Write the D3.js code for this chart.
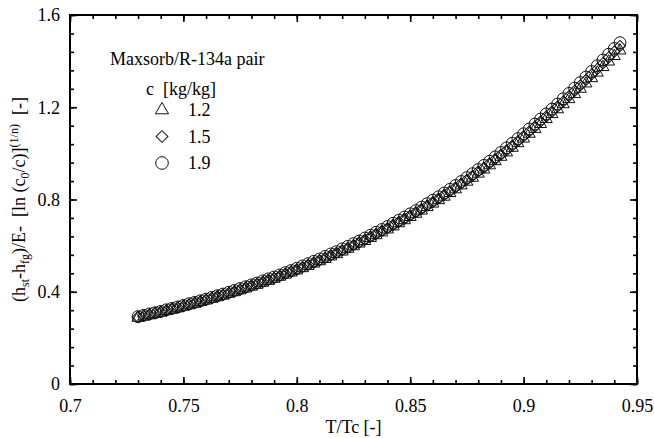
<!DOCTYPE html>
<meta charset="utf-8">
<body style="margin:0">
<script src="https://cdn.jsdelivr.net/npm/d3@7"></script>
<script>

// reduced temperature T/Tc, shared by the three series
var tr = [
  0.7300,0.7325,0.7350,0.7375,0.7400,0.7425,0.7450,0.7475,0.7500,0.7525,
  0.7550,0.7575,0.7600,0.7625,0.7650,0.7675,0.7700,0.7725,0.7750,0.7775,
  0.7800,0.7825,0.7850,0.7875,0.7900,0.7925,0.7950,0.7975,0.8000,0.8025,
  0.8050,0.8075,0.8100,0.8125,0.8150,0.8175,0.8200,0.8225,0.8250,0.8275,
  0.8300,0.8325,0.8350,0.8375,0.8400,0.8425,0.8450,0.8475,0.8500,0.8525,
  0.8550,0.8575,0.8600,0.8625,0.8650,0.8675,0.8700,0.8725,0.8750,0.8775,
  0.8800,0.8825,0.8850,0.8875,0.8900,0.8925,0.8950,0.8975,0.9000,0.9025,
  0.9050,0.9075,0.9100,0.9125,0.9150,0.9175,0.9200,0.9225,0.9250,0.9275,
  0.9300,0.9325,0.9350,0.9375,0.9400,0.9425
];

// c = 1.2 kg/kg (triangles)
var c12 = [
  0.287,0.292,0.298,0.304,0.309,0.316,0.322,0.328,0.335,0.341,
  0.348,0.355,0.362,0.369,0.376,0.383,0.391,0.398,0.406,0.414,
  0.422,0.430,0.439,0.447,0.456,0.465,0.474,0.483,0.492,0.502,
  0.512,0.522,0.532,0.542,0.553,0.563,0.574,0.586,0.597,0.609,
  0.620,0.633,0.645,0.657,0.670,0.683,0.697,0.710,0.724,0.738,
  0.752,0.767,0.782,0.797,0.812,0.828,0.844,0.861,0.877,0.894,
  0.912,0.930,0.948,0.966,0.985,1.004,1.024,1.044,1.064,1.085,
  1.106,1.127,1.149,1.170,1.191,1.213,1.235,1.257,1.280,1.303,
  1.326,1.350,1.374,1.398,1.422,1.446
];

// c = 1.5 kg/kg (diamonds)
var c15 = [
  0.290,0.296,0.301,0.307,0.313,0.319,0.326,0.332,0.338,0.345,
  0.352,0.358,0.365,0.373,0.380,0.387,0.395,0.402,0.410,0.418,
  0.426,0.435,0.443,0.452,0.460,0.469,0.478,0.488,0.497,0.507,
  0.517,0.527,0.537,0.547,0.558,0.569,0.580,0.591,0.603,0.614,
  0.626,0.639,0.651,0.664,0.676,0.690,0.703,0.717,0.731,0.745,
  0.759,0.774,0.789,0.804,0.820,0.836,0.852,0.869,0.886,0.903,
  0.921,0.938,0.957,0.975,0.994,1.013,1.033,1.053,1.074,1.095,
  1.116,1.138,1.160,1.181,1.203,1.225,1.248,1.271,1.294,1.318,
  1.342,1.366,1.391,1.416,1.441,1.466
];

// c = 1.9 kg/kg (circles)
var c19 = [
  0.292,0.298,0.304,0.309,0.315,0.322,0.328,0.334,0.341,0.348,
  0.354,0.361,0.368,0.376,0.383,0.390,0.398,0.406,0.414,0.422,
  0.430,0.438,0.447,0.456,0.464,0.473,0.483,0.492,0.502,0.512,
  0.522,0.532,0.542,0.553,0.564,0.574,0.586,0.597,0.609,0.620,
  0.633,0.645,0.658,0.670,0.683,0.697,0.710,0.724,0.738,0.752,
  0.767,0.782,0.797,0.812,0.828,0.844,0.861,0.878,0.895,0.912,
  0.930,0.948,0.966,0.985,1.004,1.024,1.044,1.064,1.085,1.106,
  1.127,1.149,1.171,1.192,1.214,1.237,1.260,1.283,1.307,1.331,
  1.355,1.380,1.405,1.430,1.455,1.480
];

var seriesNames = ["1.2", "1.5", "1.9"];
var seriesValues = [c12, c15, c19];

var xMajor = [0.7, 0.75, 0.8, 0.85, 0.9, 0.95];
var yMajor = [0, 0.4, 0.8, 1.2, 1.6];
var xMinor = d3.range(0, 26).map(function(i) { return 0.7 + i * 0.01; });
var yMinor = d3.range(0, 21).map(function(i) { return i * 0.08; });

var FONT = "'Liberation Serif', Tinos, 'Times New Roman', Times, FreeSerif";

var margin = {top: 15, right: 17, bottom: 54, left: 70},
    width = 654 - margin.left - margin.right,
    height = 438 - margin.top - margin.bottom;

var svg = d3.select("body").append("svg")
    .attr("width", 654)
    .attr("height", 438)
    .style("font-family", FONT);

var g = svg.append("g")
    .attr("transform", "translate(" + margin.left + "," + margin.top + ")");

var x = d3.scaleLinear().domain([0.7, 0.95]).range([0, width]);
var y = d3.scaleLinear().domain([0, 1.6]).range([height, 0]);

var fmt = function(d) { return String(+d.toFixed(2)); };

// minor ticks on all four sides (inward)
function minorAxis(axis, vals) {
    return axis.tickValues(vals).tickSize(-4).tickFormat("");
}
g.append("g").attr("class", "axis").attr("transform", "translate(0," + height + ")")
    .call(minorAxis(d3.axisBottom(x), xMinor));
g.append("g").attr("class", "axis")
    .call(minorAxis(d3.axisTop(x), xMinor));
g.append("g").attr("class", "axis")
    .call(minorAxis(d3.axisLeft(y), yMinor));
g.append("g").attr("class", "axis").attr("transform", "translate(" + width + ",0)")
    .call(minorAxis(d3.axisRight(y), yMinor));

// major ticks with labels
g.append("g").attr("class", "axis").attr("transform", "translate(0," + height + ")")
    .call(d3.axisBottom(x).tickValues(xMajor).tickSize(-7).tickPadding(15).tickFormat(fmt));
g.append("g").attr("class", "axis")
    .call(d3.axisTop(x).tickValues(xMajor).tickSize(-7).tickFormat(""));
g.append("g").attr("class", "axis")
    .call(d3.axisLeft(y).tickValues(yMajor).tickSize(-7).tickPadding(10).tickFormat(fmt));
g.append("g").attr("class", "axis").attr("transform", "translate(" + width + ",0)")
    .call(d3.axisRight(y).tickValues(yMajor).tickSize(-7).tickFormat(""));

g.selectAll(".axis").attr("font-family", null).attr("font-size", null);
g.selectAll(".axis line").attr("stroke", "#000").attr("stroke-width", 1.6);
g.selectAll(".axis .domain").remove();
g.selectAll(".axis text").attr("fill", "#000").style("font-size", "18px");

g.append("rect")
    .attr("width", width).attr("height", height)
    .attr("fill", "none").attr("stroke", "#000").attr("stroke-width", 2);

// markers
var symbols = [
    d3.symbol().type(d3.symbolTriangle).size(62),
    d3.symbol().type(d3.symbolSquare).size(62),
    d3.symbol().type(d3.symbolCircle).size(110)
];
var rotations = [0, 45, 0];

seriesValues.forEach(function(vals, s) {
    g.selectAll(".m" + s)
        .data(vals)
        .enter().append("path")
        .attr("class", "m" + s)
        .attr("fill", "none").attr("stroke", "#111").attr("stroke-width", 1)
        .attr("d", symbols[s])
        .attr("transform", function(d, i) {
            return "translate(" + x(tr[i]) + "," + y(d) + ") rotate(" + rotations[s] + ")";
        });
});

// axis titles
svg.append("text")
    .attr("x", margin.left + width / 2)
    .attr("y", 433)
    .attr("text-anchor", "middle")
    .style("font-size", "18px")
    .text("T/Tc [-]");

var yt = svg.append("text")
    .attr("transform", "translate(25," + (margin.top + height / 2) + ") rotate(-90)")
    .attr("text-anchor", "middle")
    .style("font-size", "18px");
yt.append("tspan").text("(h");
yt.append("tspan").attr("dy", 4).style("font-size", "12px").text("st");
yt.append("tspan").attr("dy", -4).text("-h");
yt.append("tspan").attr("dy", 4).style("font-size", "12px").text("fg");
yt.append("tspan").attr("dy", -4).text(")/E-\u00a0\u00a0[ln (c");
yt.append("tspan").attr("dy", 4).style("font-size", "12px").text("0");
yt.append("tspan").attr("dy", -4).text("/c)]");
yt.append("tspan").attr("dy", -7).style("font-size", "12px").text("(1/n)");
yt.append("tspan").attr("dy", 7).text("\u00a0\u00a0[-]");

// legend
svg.append("text").attr("x", 110).attr("y", 65).style("font-size", "18px")
    .text("Maxsorb/R-134a pair");
svg.append("text").attr("x", 146).attr("y", 95).style("font-size", "18px")
    .text("c\u00a0\u00a0[kg/kg]");

var legend = svg.selectAll(".legend").data(seriesNames)
    .enter().append("g")
    .attr("class", "legend")
    .attr("transform", function(d, i) { return "translate(162," + (110 + i * 26.5) + ")"; });

legend.append("path")
    .attr("fill", "none").attr("stroke", "#111").attr("stroke-width", 1)
    .attr("d", function(d, i) {
        return [d3.symbol().type(d3.symbolTriangle).size(75),
                d3.symbol().type(d3.symbolSquare).size(70),
                d3.symbol().type(d3.symbolCircle).size(125)][i]();
    })
    .attr("transform", function(d, i) { return "rotate(" + rotations[i] + ")"; });

legend.append("text")
    .attr("x", 26)
    .attr("y", 6)
    .style("font-size", "18px")
    .text(function(d) { return d; });

svg.selectAll("text").style("font-family", FONT);

</script>
